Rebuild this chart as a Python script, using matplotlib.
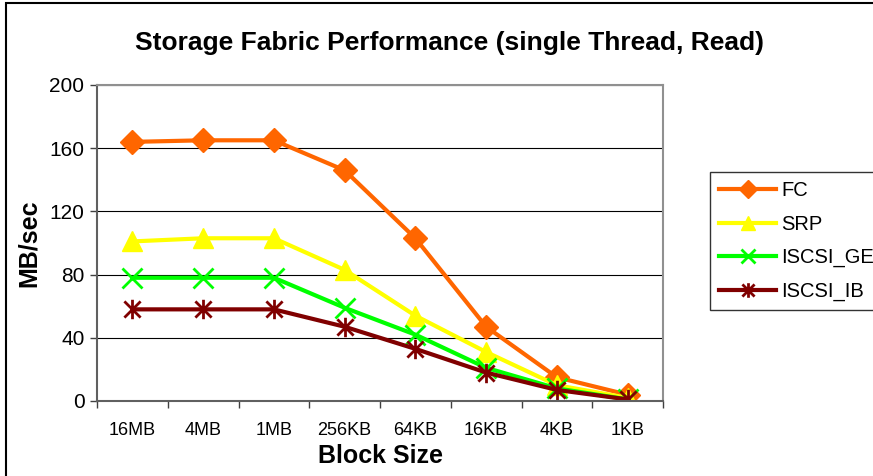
import numpy as np
import matplotlib
matplotlib.use('Agg')
import matplotlib.pyplot as plt
from matplotlib.path import Path
from matplotlib.patches import Rectangle

plt.rcParams['font.family'] = ['Liberation Sans', 'DejaVu Sans']

# 数据
block_sizes = ['16MB', '4MB', '1MB', '256KB', '64KB', '16KB', '4KB', '1KB']
fc = [164, 165, 165, 146, 103, 47, 15, 4]
srp = [101, 103, 103, 83, 54, 31, 10, 2]
iscsi_ge = [78, 78, 78, 59, 42, 21, 8, 1]
iscsi_ib = [58, 58, 58, 47, 33, 18, 7, 1]
y_ticks = [0, 40, 80, 120, 160, 200]

# Excel风格的星号标记
star = Path(
    [(-1, -1), (1, 1), (-1, 1), (1, -1), (0, -1.2), (0, 1.2)],
    [Path.MOVETO, Path.LINETO, Path.MOVETO, Path.LINETO, Path.MOVETO, Path.LINETO]
)

fig = plt.figure(figsize=(8.73, 4.76), dpi=100)
ax = fig.add_axes([97 / 873, 75 / 476, 566 / 873, 316 / 476])

x = np.arange(len(block_sizes))
ax.plot(x, fc, color='#FF6600', lw=3, marker='D', ms=12, label='FC')
ax.plot(x, srp, color='#FFFF00', lw=3, marker='^', ms=14, label='SRP')
ax.plot(x, iscsi_ge, color='#00FF00', lw=3, marker='x', ms=14, mew=2, label='ISCSI_GE')
ax.plot(x, iscsi_ib, color='#800000', lw=3, marker=star, ms=14, mew=2, label='ISCSI_IB')

ax.set_xlim(-0.5, len(block_sizes) - 0.5)
ax.set_ylim(0, 200)
ax.set_yticks(y_ticks)
ax.set_xticks(x)
ax.set_xticklabels(block_sizes)
ax.set_xticks(np.arange(-0.5, len(block_sizes)), minor=True)
ax.tick_params(axis='x', which='major', length=0, labelsize=13, pad=15)
ax.tick_params(axis='x', which='minor', length=5, width=1, color='#404040', direction='out')
ax.tick_params(axis='y', length=5, width=1, color='#404040', labelsize=15, pad=4)

ax.yaxis.grid(True, color='black', lw=0.8)
ax.set_axisbelow(True)
for s in ['left', 'bottom']:
    ax.spines[s].set_color('#606060')
    ax.spines[s].set_linewidth(1.5)
for s in ['top', 'right']:
    ax.spines[s].set_color('#909090')
    ax.spines[s].set_linewidth(1.5)

ax.set_xlabel('Block Size', fontsize=18, fontweight='bold', labelpad=4)
ax.set_ylabel('MB/sec', fontsize=18, fontweight='bold', labelpad=6)
fig.text(450 / 873, 1 - 43 / 476, 'Storage Fabric Performance (single Thread, Read)',
         ha='center', va='center', fontsize=19, fontweight='bold')

fig.legend(loc='upper left', bbox_to_anchor=(710 / 873, 1 - 172 / 476),
           fontsize=14.5, handlelength=2.85, frameon=True, fancybox=False,
           edgecolor='black', borderpad=0.45, labelspacing=0.72, handletextpad=0.25,
           borderaxespad=0, markerscale=0.75)

# 外边框
fig.patches.append(Rectangle((6 / 873, -0.1), 1.2, 1.1 - 3 / 476, transform=fig.transFigure,
                             fill=False, edgecolor='black', lw=1.5, clip_on=False))

plt.savefig('out.png', dpi=100)
